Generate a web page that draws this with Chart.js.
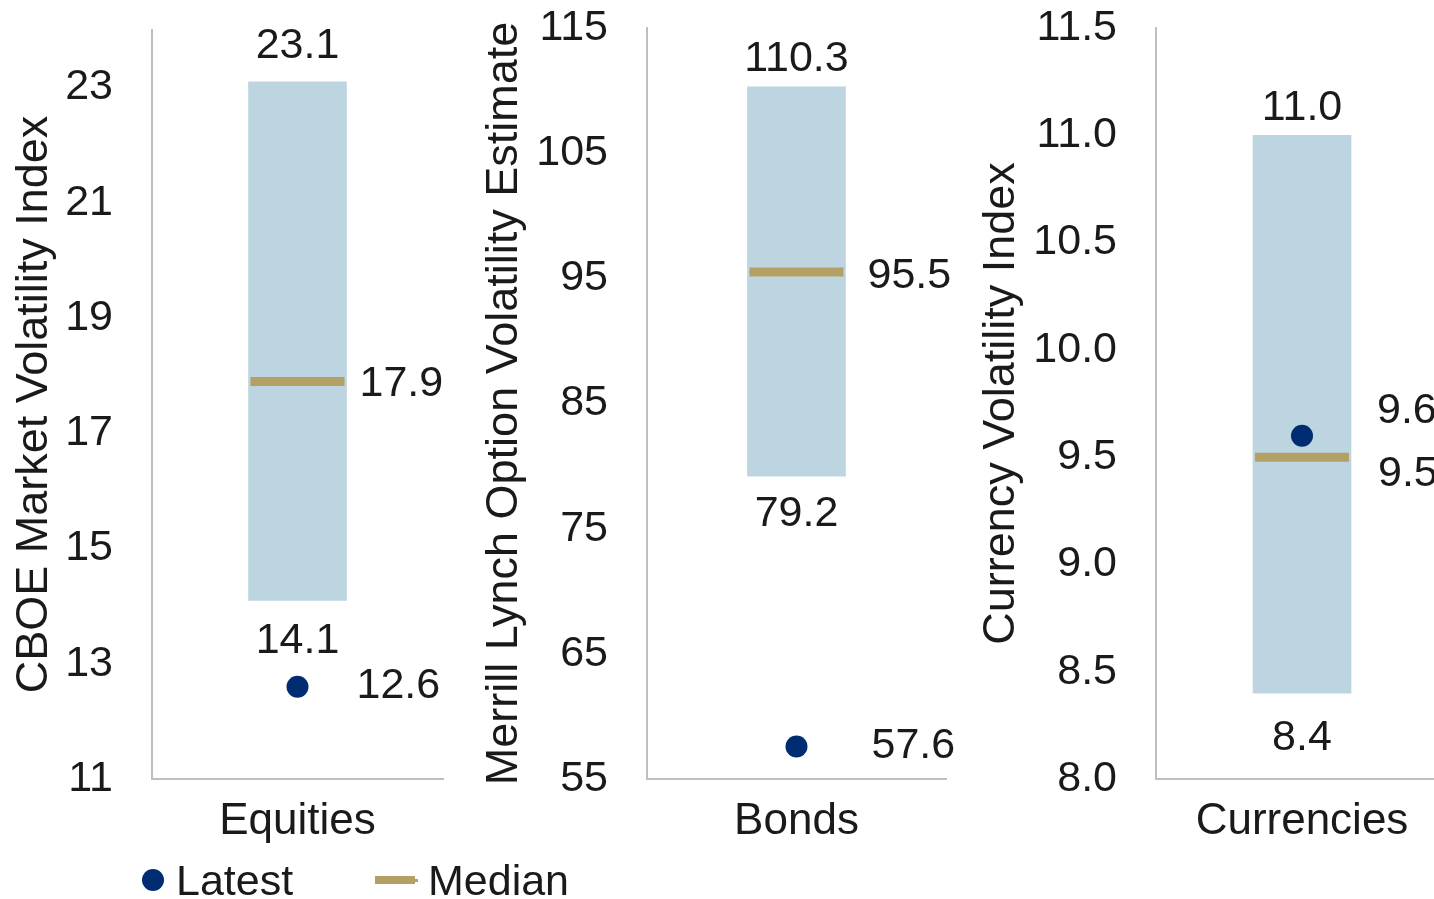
<!DOCTYPE html>
<html>
<head>
<meta charset="utf-8">
<title>Volatility ranges</title>
<script src="https://cdn.jsdelivr.net/npm/chart.js@4"></script>
<style>
  html, body { margin: 0; padding: 0; background: #fff; overflow: hidden; width: 1434px; height: 899px; }
  body { position: relative; font-family: "Liberation Sans", Arial, sans-serif; color: #1a1a1a; }
  canvas { position: absolute; top: 0; }
  .legend-text { position: absolute; font-size: 43px; line-height: 50px; white-space: nowrap; }
  .legend-dot { position: absolute; width: 22px; height: 22px; border-radius: 50%; background: #002d72; }
  .legend-line { position: absolute; height: 8px; background: #b4a065; }
</style>
</head>
<body>
<div class="legend-dot" style="left:142px; top:869px;"></div>
<div class="legend-text" style="left:176px; top:855px;">Latest</div>
<div class="legend-line" style="left:375px; top:876px; width:40px;"></div>
<div class="legend-line" style="left:413px; top:879px; width:5px; height:3px;"></div>
<div class="legend-text" style="left:428px; top:855px;">Median</div>
<script>
const categories = ['Equities', 'Bonds', 'Currencies'];
const rangeLow = [14.1, 79.2, 8.4];
const rangeHigh = [23.1, 110.3, 11.0];
const medianValues = [17.9, 95.5, 9.5];
const latestValues = [12.6, 57.6, 9.6];
const axisTitles = [
  'CBOE Market Volatility Index',
  'Merrill Lynch Option Volatility Estimate',
  'Currency Volatility Index'
];
const axisMin = [11, 55, 8];
const axisMax = [24, 115, 11.5];
const tickValues = [
  [11, 13, 15, 17, 19, 21, 23],
  [55, 65, 75, 85, 95, 105, 115],
  [8.0, 8.5, 9.0, 9.5, 10.0, 10.5, 11.0, 11.5]
];
const tickDecimals = [0, 0, 1];

const BAR_BLUE = '#bdd5e0';
const MEDIAN_GOLD = '#b4a065';
const LATEST_NAVY = '#002d72';
const AXIS_GREY = '#bfbfbf';
const TEXT = '#1a1a1a';
const FONT = '"Liberation Sans", Arial, sans-serif';
const HEIGHT = 899;
const PLOT_BOTTOM = 779;

// where each small chart sits and how its value labels are nudged
const panels = [
  { left: 0,   width: 470, axisWidth: 152, plotRight: 443,  top: 30, titlePad: 8,
    highDy: -36, lowDy: 41, medGap: 62, medDy: 3,  latGap: 59, latDy: -1 },
  { left: 470, width: 500, axisWidth: 177, plotRight: 946,  top: 28, titlePad: 8,
    highDy: -28, lowDy: 38, medGap: 71, medDy: 4,  latGap: 75, latDy: 0 },
  { left: 960, width: 500, axisWidth: 196, plotRight: 1448, top: 28, titlePad: 15,
    highDy: -27, lowDy: 45, medGap: 76, medDy: 17, latGap: 75, latDy: -25 }
];

function valueLabels(i, p) {
  return {
    id: 'valueLabels',
    afterDatasetsDraw(chart) {
      const { ctx, scales: { x, y } } = chart;
      const cx = x.getPixelForValue(0);
      ctx.save();
      ctx.font = `43px ${FONT}`;
      ctx.fillStyle = TEXT;
      ctx.textBaseline = 'middle';
      ctx.textAlign = 'center';
      ctx.fillText(rangeHigh[i].toFixed(1), cx, y.getPixelForValue(rangeHigh[i]) + p.highDy);
      ctx.fillText(rangeLow[i].toFixed(1), cx, y.getPixelForValue(rangeLow[i]) + p.lowDy);
      ctx.textAlign = 'left';
      ctx.fillText(medianValues[i].toFixed(1), cx + p.medGap, y.getPixelForValue(medianValues[i]) + p.medDy);
      ctx.fillText(latestValues[i].toFixed(1), cx + p.latGap, y.getPixelForValue(latestValues[i]) + p.latDy);
      ctx.restore();
    }
  };
}

categories.forEach((cat, i) => {
  const p = panels[i];
  const canvas = document.createElement('canvas');
  canvas.width = p.width;
  canvas.height = HEIGHT;
  canvas.style.left = p.left + 'px';
  document.body.insertBefore(canvas, document.body.firstChild);

  new Chart(canvas, {
    type: 'bar',
    data: {
      labels: [cat],
      datasets: [
        {
          label: 'Range',
          data: [[rangeLow[i], rangeHigh[i]]],
          backgroundColor: BAR_BLUE,
          barThickness: 98,
          order: 3
        },
        {
          type: 'line',
          label: 'Median',
          data: [medianValues[i]],
          showLine: false,
          pointStyle: 'line',
          pointRadius: 47,
          pointHoverRadius: 47,
          pointBorderWidth: 9,
          pointBorderColor: MEDIAN_GOLD,
          borderColor: MEDIAN_GOLD,
          order: 2
        },
        {
          type: 'line',
          label: 'Latest',
          data: [latestValues[i]],
          showLine: false,
          pointStyle: 'circle',
          pointRadius: 11,
          pointHoverRadius: 11,
          pointBorderWidth: 0,
          pointBackgroundColor: LATEST_NAVY,
          order: 1
        }
      ]
    },
    options: {
      responsive: false,
      animation: false,
      devicePixelRatio: 1,
      events: [],
      layout: {
        autoPadding: false,
        padding: { top: p.top, left: 0, bottom: 0, right: p.width - (p.plotRight - p.left) }
      },
      plugins: { legend: { display: false }, tooltip: { enabled: false } },
      scales: {
        x: {
          grid: { display: false, drawTicks: false },
          border: { color: AXIS_GREY, width: 2 },
          ticks: { color: TEXT, font: { family: FONT, size: 44 }, padding: 16 },
          afterFit: (s) => { s.height = HEIGHT - PLOT_BOTTOM; }
        },
        y: {
          min: axisMin[i],
          max: axisMax[i],
          grid: { display: false, drawTicks: false },
          border: { color: AXIS_GREY, width: 2 },
          ticks: {
            color: TEXT,
            font: { family: FONT, size: 43 },
            padding: 39,
            callback: (v) => Number(v).toFixed(tickDecimals[i])
          },
          afterBuildTicks: (s) => { s.ticks = tickValues[i].map((v) => ({ value: v })); },
          afterFit: (s) => {
            // the tick padding would otherwise also be reserved above the plot
            s.width = p.axisWidth;
            s.paddingTop = 0;
            s.paddingBottom = 0;
          },
          title: {
            display: true,
            text: axisTitles[i],
            color: TEXT,
            font: { family: FONT, size: 45 },
            padding: { top: p.titlePad, bottom: 0 }
          }
        }
      }
    },
    plugins: [valueLabels(i, p)]
  });
});
</script>
</body>
</html>
